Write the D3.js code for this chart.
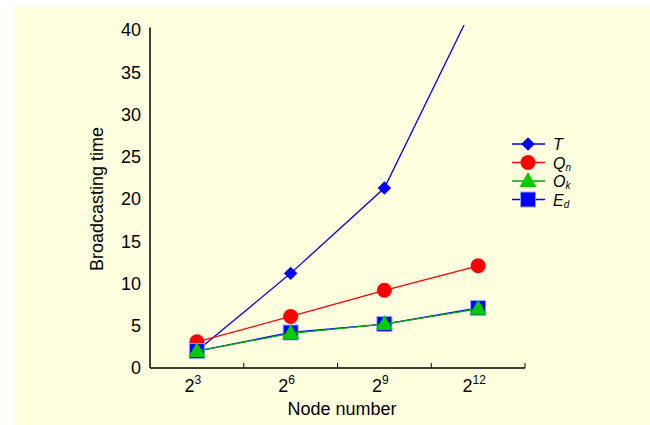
<!DOCTYPE html>
<html>
<head>
<meta charset="utf-8">
<script src="https://cdn.jsdelivr.net/npm/d3@7"></script>
<style>
  body { margin: 0; background: #fff; }
  text { font-family: "Liberation Sans", Arial, sans-serif; fill: #000; }
</style>
</head>
<body>
<div id="chart"></div>
<script>
// data
var nodeExp = [3, 6, 9, 12];
var seriesT  = [2.0, 11.2, 21.3, 44.0];
var seriesQn = [3.1, 6.1, 9.2, 12.1];
var seriesOk = [2.0, 4.1, 5.2, 7.0];
var seriesEd = [2.0, 4.2, 5.2, 7.1];
var yTicks = [0, 5, 10, 15, 20, 25, 30, 35, 40];

var width = 650, height = 425;

var svg = d3.select("#chart")
  .append("svg")
  .attr("width", width)
  .attr("height", height);

// background panel
svg.append("rect")
  .attr("x", 13).attr("y", 6)
  .attr("width", width - 13).attr("height", height - 6)
  .attr("fill", "#ffffe0");

var x = d3.scaleBand()
  .domain(nodeExp)
  .range([150, 525]);

var y = d3.scaleLinear()
  .domain([0, 40])
  .range([368, 30]);

var xc = function(d) { return x(d) + x.bandwidth() / 2; };

// axes
svg.append("line")
  .attr("x1", 150).attr("x2", 150)
  .attr("y1", y(40.3)).attr("y2", y(0))
  .attr("stroke", "#000").attr("stroke-width", 1.5);
svg.append("line")
  .attr("x1", 150).attr("x2", 525)
  .attr("y1", y(0)).attr("y2", y(0))
  .attr("stroke", "#000").attr("stroke-width", 1.5);

// minor ticks at band edges
svg.append("g")
  .selectAll("line")
  .data(nodeExp.slice(1).concat(["end"]))
  .enter().append("line")
  .attr("x1", function(d) { return d === "end" ? 525 : x(d); })
  .attr("x2", function(d) { return d === "end" ? 525 : x(d); })
  .attr("y1", y(0)).attr("y2", y(0) - 5)
  .attr("stroke", "#000").attr("stroke-width", 1);

// y tick labels
svg.append("g")
  .selectAll("text")
  .data(yTicks)
  .enter().append("text")
  .attr("x", 141)
  .attr("y", function(d) { return y(d); })
  .attr("dy", "0.36em")
  .attr("text-anchor", "end")
  .style("font-size", "18px")
  .text(function(d) { return d; });

// x tick labels 2^n
var xl = svg.append("g")
  .selectAll("text")
  .data(nodeExp)
  .enter().append("text")
  .attr("x", function(d) { return xc(d) - 4; })
  .attr("y", 392)
  .attr("text-anchor", "middle")
  .style("font-size", "18px");
xl.append("tspan").text("2");
xl.append("tspan")
  .attr("dy", -8)
  .style("font-size", "12px")
  .text(function(d) { return d; });

// axis titles
svg.append("text")
  .attr("transform", "translate(103,199) rotate(-90)")
  .attr("text-anchor", "middle")
  .style("font-size", "18px")
  .text("Broadcasting time");
svg.append("text")
  .attr("x", 342).attr("y", 415)
  .attr("text-anchor", "middle")
  .style("font-size", "18px")
  .text("Node number");

// clip for lines above 40
svg.append("clipPath").attr("id", "plotclip")
  .append("rect")
  .attr("x", 150).attr("y", y(40.6))
  .attr("width", 380).attr("height", y(0) - y(40.6) + 20);

var series = [
  { name: "T",  sub: "",  values: seriesT,  color: "#0000ff", marker: "diamond" },
  { name: "Q",  sub: "n", values: seriesQn, color: "#ff0000", marker: "circle" },
  { name: "E",  sub: "d", values: seriesEd, color: "#0000ff", marker: "square" },
  { name: "O",  sub: "k", values: seriesOk, color: "#00aa00", marker: "triangle" }
];

var line = d3.line()
  .x(function(d, i) { return xc(nodeExp[i]); })
  .y(function(d) { return y(d); });

function drawMarker(g, type, color) {
  if (type === "diamond") {
    g.append("path")
      .attr("d", d3.symbol(d3.symbolDiamond2, 115)())
      .attr("fill", color);
  } else if (type === "circle") {
    g.append("circle").attr("r", 7.5).attr("fill", color);
  } else if (type === "square") {
    g.append("rect")
      .attr("x", -7.5).attr("y", -7.5).attr("width", 15).attr("height", 15)
      .attr("fill", color).attr("stroke", "#8fa8ff").attr("stroke-width", 1);
  } else if (type === "triangle") {
    g.append("path")
      .attr("d", "M0,-9L8.5,6L-8.5,6Z")
      .attr("fill", "#00cc00");
  }
}

var plot = svg.append("g");
series.forEach(function(s) {
  plot.append("path")
    .datum(s.values)
    .attr("d", line)
    .attr("fill", "none")
    .attr("stroke", s.color)
    .attr("stroke-width", 1.3)
    .attr("clip-path", "url(#plotclip)");
  s.values.forEach(function(v, i) {
    if (v > 40.6) return;
    var g = plot.append("g")
      .attr("transform", "translate(" + xc(nodeExp[i]) + "," + y(v) + ")");
    drawMarker(g, s.marker, s.color);
  });
});

// legend
var legendOrder = [series[0], series[1], series[3], series[2]];
var legend = svg.append("g");
legendOrder.forEach(function(s, i) {
  var ly = 144 + i * 18.5;
  var g = legend.append("g").attr("transform", "translate(0," + ly + ")");
  g.append("line")
    .attr("x1", 512).attr("x2", 545)
    .attr("stroke", s.color).attr("stroke-width", 1.3);
  var m = g.append("g").attr("transform", "translate(528,0)");
  drawMarker(m, s.marker, s.color);
  var t = g.append("text")
    .attr("x", 553).attr("y", 6)
    .style("font-size", "16px")
    .style("font-style", "italic");
  t.append("tspan").text(s.name);
  if (s.sub) {
    t.append("tspan").attr("dy", 2).style("font-size", "10px").text(s.sub);
  }
});
</script>
</body>
</html>
